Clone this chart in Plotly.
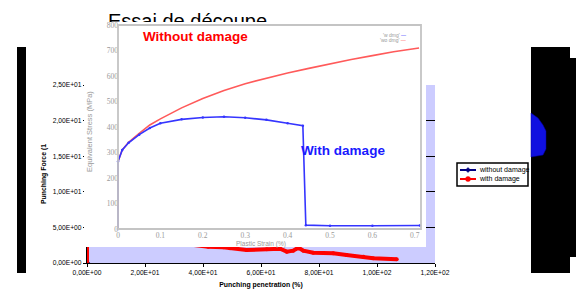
import plotly.graph_objects as go

# ---------------- data ----------------
# background chart: punching force vs punching penetration
pen_ticks = [0, 20, 40, 60, 80, 100, 120]
pen_tick_labels = ["0,00E+00", "2,00E+01", "4,00E+01", "6,00E+01", "8,00E+01", "1,00E+02", "1,20E+02"]
force_ticks = [0, 5, 10, 15, 20, 25]
force_tick_labels = ["0,00E+00", "5,00E+00", "1,00E+01", "1,50E+01", "2,00E+01", "2,50E+01"]
series_names = ["without damage", "with damage"]

pen_without = [0]
force_without = [0]
pen_with = [0, 0, None, 35.5, 41.8, 47, 49.3, 55, 62, 66.6, 68.9, 71.1, 72.9, 74.6, 78, 84.9, 89.5, 95.3, 98.7, 106.8]
force_with = [0, 3.0, None, 2.6, 2.29, 2.2, 2.06, 1.83, 1.92, 2.0, 1.59, 1.73, 2.15, 1.73, 1.45, 1.36, 1.12, 0.88, 0.66, 0.52]

# inset: equivalent stress vs plastic strain
strain_ticks = [0, 0.1, 0.2, 0.3, 0.4, 0.5, 0.6, 0.7]
strain_tick_labels = ["0", "0.1", "0.2", "0.3", "0.4", "0.5", "0.6", "0.7"]
stress_ticks = [0, 100, 200, 300, 400, 500, 600, 700, 800]

strain_wo = [0, 0, 0.01, 0.025, 0.05, 0.075, 0.1, 0.15, 0.2, 0.25, 0.3, 0.35, 0.4, 0.45, 0.5, 0.55, 0.6, 0.65, 0.71]
stress_wo = [0, 265, 310, 340, 375, 408, 432, 475, 512, 543, 570, 592, 612, 630, 648, 665, 680, 695, 710]
strain_w = [0, 0, 0.01, 0.025, 0.05, 0.075, 0.1, 0.15, 0.2, 0.25, 0.3, 0.35, 0.4, 0.436, 0.443, 0.5, 0.6, 0.712]
stress_w = [0, 265, 310, 338, 370, 396, 415, 430, 437, 440, 436, 428, 415, 405, 15, 13, 13, 14]

title_text = "Essai de découpe"

# ---------------- layout helpers ----------------
W, H = 576, 289
def fx(px):
    return px / W
def fy(py):
    return 1 - py / H

font_main = "Liberation Sans, Arial, sans-serif"

# inset pixel geometry
IX0, IX1, IY0, IY1 = 84, 426, 22, 247      # white inset box
SX0, SPX = 118, 424.0                       # strain 0 at px 118, px per unit strain
SY0, SPY = 229, 0.255                       # stress 0 at py 229, px per MPa
x3_range = [(IX0 - SX0) / SPX, (IX1 - SX0) / SPX]
y3_range = [(SY0 - IY1) / SPY, (SY0 - IY0) / SPY]

# title strip geometry (subplot x2y2 lies under the inset)
TX0, TX1, TY0, TY1 = 100, 300, 5, 32

fig = go.Figure()

# background traces (subplot xy)
fig.add_trace(go.Scatter(x=pen_without, y=force_without, mode="lines+markers", name=series_names[0],
                         line=dict(color="#000080", width=2), marker=dict(symbol="diamond", size=5, color="#000080"),
                         xaxis="x", yaxis="y", showlegend=False))
fig.add_trace(go.Scatter(x=pen_with, y=force_with, mode="lines+markers", name=series_names[1],
                         line=dict(color="#ff0000", width=4), marker=dict(symbol="circle", size=4, color="#ff0000"),
                         xaxis="x", yaxis="y", connectgaps=False, showlegend=False))
# chart title (subplot x2y2, drawn beneath the inset so its lower part is hidden)
fig.add_trace(go.Scatter(x=[(108 - TX0) / (TX1 - TX0)], y=[(TY1 - 22.5) / (TY1 - TY0)], mode="text", text=[title_text],
                         textposition="middle right", textfont=dict(size=20, color="black", family=font_main),
                         cliponaxis=False, showlegend=False, hoverinfo="skip", xaxis="x2", yaxis="y2"))

# inset traces (subplot x3y3)
fig.add_trace(go.Scatter(x=strain_wo, y=stress_wo, mode="lines", name="wo dmg", showlegend=False,
                         line=dict(color="#ff5a5a", width=1.6), xaxis="x3", yaxis="y3"))
fig.add_trace(go.Scatter(x=strain_w, y=stress_w, mode="lines+markers", name="w dmg", showlegend=False,
                         line=dict(color="#3535ff", width=1.6), marker=dict(size=2.5, color="#3535ff"),
                         xaxis="x3", yaxis="y3"))

fig.update_layout(
    width=W, height=H,
    margin=dict(l=0, r=0, t=0, b=0, autoexpand=False),
    paper_bgcolor="white",
    plot_bgcolor="white",
    font=dict(family=font_main, color="black"),
    showlegend=False,
    xaxis=dict(domain=[fx(87), fx(435)], range=[0, 120], anchor="y", automargin=False,
               showline=True, linecolor="black", linewidth=1.2, ticks="outside", ticklen=3, tickcolor="black",
               tickvals=pen_ticks, ticktext=pen_tick_labels, tickfont=dict(size=6.7),
               showgrid=False, zeroline=False,
               title=dict(text="<b>Punching penetration (%)</b>", font=dict(size=6.9), standoff=9)),
    yaxis=dict(domain=[fy(263), fy(85)], range=[0, 25], anchor="x", automargin=False,
               showline=True, linecolor="black", linewidth=1.2, ticks="outside", ticklen=3, tickcolor="black",
               tickvals=force_ticks, ticktext=force_tick_labels, tickfont=dict(size=6.7),
               showgrid=True, gridcolor="black", gridwidth=1, zeroline=False,
               title=dict(text="<b>Punching Force (1</b>", font=dict(size=6.9), standoff=5)),
    xaxis2=dict(domain=[fx(TX0), fx(TX1)], range=[0, 1], anchor="y2", visible=False, automargin=False),
    yaxis2=dict(domain=[fy(TY1), fy(TY0)], range=[0, 1], anchor="x2", visible=False, automargin=False),
    xaxis3=dict(domain=[fx(IX0), fx(IX1)], range=x3_range, anchor="free", position=fy(SY0), automargin=False,
                showline=False, showgrid=False, zeroline=False, ticks="",
                tickvals=strain_ticks, ticktext=strain_tick_labels,
                tickfont=dict(size=7.5, color="#9a9a9a", family="Liberation Serif, serif")),
    yaxis3=dict(domain=[fy(IY1), fy(IY0)], range=y3_range, anchor="free", position=fx(SX0), automargin=False,
                showline=False, showgrid=False, zeroline=False, ticks="",
                tickvals=stress_ticks, tickfont=dict(size=7.5, color="#9a9a9a", family="Liberation Serif, serif")),
)

shapes = []
# lavender plot area of the background chart (below its gridlines)
shapes.append(dict(type="rect", xref="x", yref="y", x0=0, x1=120, y0=0, y1=25,
                   fillcolor="#ccccff", line=dict(width=0), layer="below"))
# white inset background, in the inset subplot so it hides the background chart and the title's lower part
shapes.append(dict(type="rect", xref="x3", yref="y3", x0=x3_range[0], x1=x3_range[1], y0=y3_range[0], y1=y3_range[1],
                   fillcolor="white", line=dict(width=0), layer="below"))
# inset frame
shapes.append(dict(type="rect", xref="x3", yref="y3", x0=0, x1=(421 - SX0) / SPX, y0=0, y1=800,
                   line=dict(color="#c4c4c4", width=1.8), fillcolor="rgba(0,0,0,0)", layer="above"))
# black blocks on the sides
shapes.append(dict(type="rect", xref="paper", yref="paper", x0=fx(17), x1=fx(26), y0=fy(273), y1=fy(47),
                   fillcolor="black", line=dict(width=0), layer="above"))
right_block = "M {a},{t} L {b},{t} L {b},{t2} L {c},{t2} L {c},{m} L {b},{m} L {b},{bt} L {a},{bt} Z".format(
    a=fx(531), b=fx(570), c=fx(576), t=fy(47), t2=fy(58), m=fy(257), bt=fy(273))
shapes.append(dict(type="path", xref="paper", yref="paper", path=right_block,
                   fillcolor="black", line=dict(width=0), layer="above"))
blob = "M {x0},{y0} L {x1},{y1} L {x2},{y2} L {x3},{y3} L {x3},{y4} L {x2},{y5} L {x0},{y6} Z".format(
    x0=fx(531), x1=fx(538), x2=fx(543), x3=fx(546),
    y0=fy(113), y1=fy(118), y2=fy(125), y3=fy(131), y4=fy(149), y5=fy(155), y6=fy(157))
shapes.append(dict(type="path", xref="paper", yref="paper", path=blob,
                   fillcolor="#1010e0", line=dict(color="#0000a0", width=0.5), layer="above"))

# legend of the background chart (box, line samples, markers)
LX0, LX1, LY0, LY1 = 457, 528, 163, 186
shapes.append(dict(type="rect", xref="paper", yref="paper", x0=fx(LX0), x1=fx(LX1), y0=fy(LY1), y1=fy(LY0),
                   fillcolor="white", line=dict(color="black", width=1.5), layer="above"))
for row_y, col, w in [(170, "#000080", 2), (179, "#ff0000", 2)]:
    shapes.append(dict(type="line", xref="paper", yref="paper", x0=fx(460), x1=fx(476), y0=fy(row_y), y1=fy(row_y),
                       line=dict(color=col, width=w), layer="above"))
diamond = "M {a},{m} L {c},{t} L {b},{m} L {c},{bt} Z".format(a=fx(465.5), b=fx(470.5), c=fx(468), m=fy(170), t=fy(167.5), bt=fy(172.5))
shapes.append(dict(type="path", xref="paper", yref="paper", path=diamond, fillcolor="#000080",
                   line=dict(color="#000080", width=0.5), layer="above"))
shapes.append(dict(type="circle", xref="paper", yref="paper", x0=fx(465.5), x1=fx(470.5), y0=fy(181.5), y1=fy(176.5),
                   fillcolor="#ff0000", line=dict(color="#ff0000", width=0.5), layer="above"))
fig.update_layout(shapes=shapes)

annotations = [
    dict(text="<b>Without damage</b>", x=fx(195.5), y=fy(37), xref="paper", yref="paper", showarrow=False,
         font=dict(size=13.5, color="#ff0000", family=font_main), xanchor="center", yanchor="middle"),
    dict(text="<b>With damage</b>", x=fx(342.5), y=fy(150), xref="paper", yref="paper", showarrow=False,
         font=dict(size=13.5, color="#1a1aff", family=font_main), xanchor="center", yanchor="middle"),
    dict(text="Plastic Strain (%)", x=fx(261), y=fy(243.5), xref="paper", yref="paper", showarrow=False,
         font=dict(size=6.5, color="#9a9a9a", family=font_main), xanchor="center", yanchor="middle"),
    dict(text="Equivalent Stress (MPa)", x=fx(89), y=fy(132), xref="paper", yref="paper", showarrow=False,
         textangle=-90, font=dict(size=7.5, color="#9a9a9a", family=font_main), xanchor="center", yanchor="middle"),
    dict(text="'w dmg' <span style='color:#3535ff'>—</span>", x=fx(408), y=fy(35), xref="paper", yref="paper",
         showarrow=False, font=dict(size=5, color="#999999", family=font_main), xanchor="right", yanchor="middle"),
    dict(text="'wo dmg' <span style='color:#ff5a5a'>—</span>", x=fx(408), y=fy(40), xref="paper", yref="paper",
         showarrow=False, font=dict(size=5, color="#999999", family=font_main), xanchor="right", yanchor="middle"),
    # legend labels
    dict(text=series_names[0], x=fx(477), y=fy(170), xref="paper", yref="paper", showarrow=False,
         font=dict(size=7, color="black", family=font_main), xanchor="left", yanchor="middle"),
    dict(text=series_names[1], x=fx(477), y=fy(179), xref="paper", yref="paper", showarrow=False,
         font=dict(size=7, color="black", family=font_main), xanchor="left", yanchor="middle"),
]
fig.update_layout(annotations=annotations)

fig.write_html("out.html", config={"displayModeBar": False},
               post_script="document.body.style.margin='0px';document.body.style.padding='0px';")
